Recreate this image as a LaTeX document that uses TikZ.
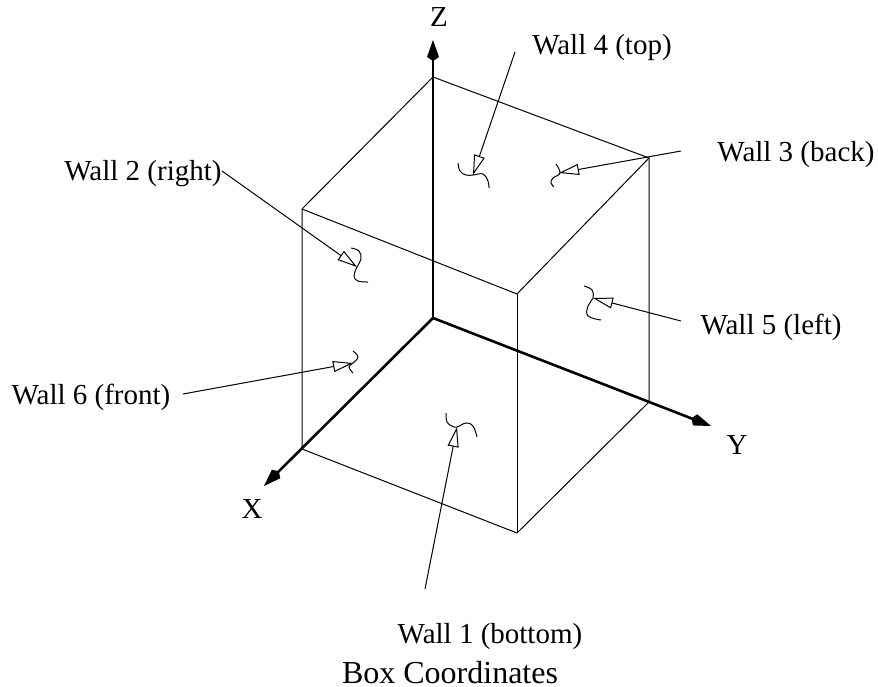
\documentclass[tikz,border=0pt]{standalone}
\usepackage{fontspec}
\setmainfont{Liberation Serif}
\usetikzlibrary{arrows.meta}
\begin{document}
\begin{tikzpicture}[x=1pt,y=-1pt,every node/.style={font=\fontsize{29}{32}\selectfont,inner sep=0pt,anchor=base},edge/.style={line width=1pt},axis/.style={line width=2.6pt,-{Kite[length=21pt,width=12pt,inset=4pt]}},leader/.style={line width=1pt,-{Triangle[open,length=20pt,width=11pt,line width=1pt]}},squiggle/.style={line width=1pt,smooth,tension=.7}]
    \useasboundingbox (0,0) rectangle (878,687);
    % box corners
    \coordinate (o) at (433,318);
    \coordinate (t) at (433,77);
    \coordinate (a) at (302,209);
    \coordinate (b) at (517,294);
    \coordinate (c) at (649,158);
    \coordinate (d) at (302,449);
    \coordinate (e) at (517,533);
    \coordinate (f) at (649,402);
    % axis ends
    \coordinate (xtip) at (264,486);
    \coordinate (ytip) at (711,426);
    \coordinate (ztip) at (433,40);
    % labels
    \node (zlab) at (439,27) {Z};
    \node (ylab) at (737,454) {Y};
    \node (xlab) at (252,518) {X};
    \node (w4) at (602,55) {Wall 4 (top)};
    \node (w3) at (796,162) {Wall 3 (back)};
    \node (w2) at (143,181) {Wall 2 (right)};
    \node (w5) at (771,334) {Wall 5 (left)};
    \node (w6) at (91,404) {Wall 6 (front)};
    \node (w1) at (490,643) {Wall 1 (bottom)};
    \node[font=\fontsize{32}{35}\selectfont] (title) at (450,683) {Box Coordinates};
    % box
    \draw[edge] (t)--(a)--(d)--(e)--(f)--(c)--cycle;
    \draw[edge] (a)--(b)--(c);
    \draw[edge] (b)--(e);
    % axes
    \draw[axis] (o)--(ztip);
    \draw[axis] (o)--(ytip);
    \draw[axis] (o)--(xtip);
    % leaders
    \coordinate (s4) at (515,52);
    \coordinate (p4) at (473,175);
    \coordinate (s3) at (681,151);
    \coordinate (p3) at (559,173);
    \coordinate (s2) at (222,171);
    \coordinate (p2) at (357,267);
    \coordinate (s5) at (681,321);
    \coordinate (p5) at (593,298);
    \coordinate (s6) at (183,394);
    \coordinate (p6) at (353,363);
    \coordinate (s1) at (425,589);
    \coordinate (p1) at (457,427);
    \foreach \n in {1,...,6}
      \draw[leader] (s\n)--(p\n);
    % squiggles
    \draw[squiggle] plot coordinates {(458,163) (460,171) (466,175) (473,175) (483,174) (488,181) (489,188)};
    \draw[squiggle] plot coordinates {(556,164) (560,173) (553,178) (551,183) (554,187)};
    \draw[squiggle] plot coordinates {(351,248) (359,251) (361,259) (357,267) (354,276) (358,281) (368,282)};
    \draw[squiggle] plot coordinates {(584,286) (592,290) (593,298) (588,306) (588,316) (601,320)};
    \draw[squiggle] plot coordinates {(353,351) (358,357) (353,363) (349,367) (353,373)};
    \draw[squiggle] plot coordinates {(446,413) (447,422) (452,426) (457,427) (466,423) (473,426) (477,437)};
  \end{tikzpicture}
\end{document}
